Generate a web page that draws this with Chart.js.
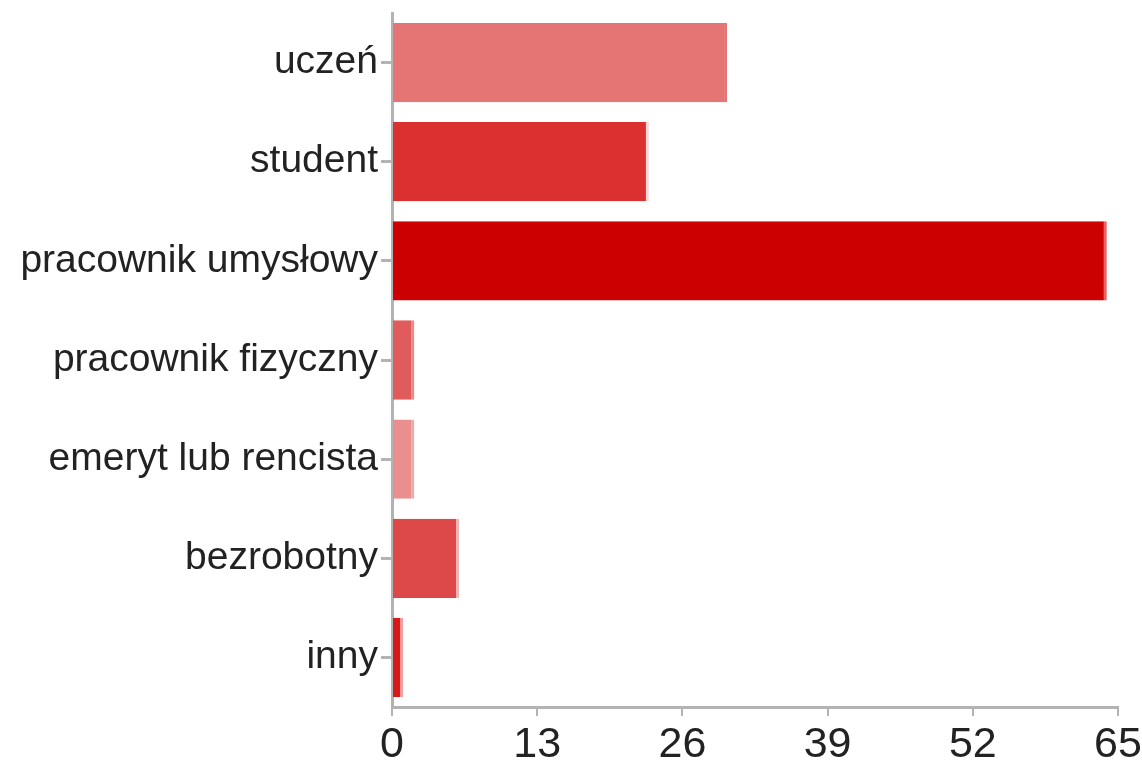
<!DOCTYPE html>
<html>
<head>
<meta charset="utf-8">
<script src="https://cdn.jsdelivr.net/npm/chart.js@4/dist/chart.umd.min.js"></script>
<style>
  html, body { margin: 0; padding: 0; background: #fff; }
  #wrap { width: 1142px; height: 761px; }
</style>
</head>
<body>
<div id="wrap"><canvas id="occupationChart" width="1142" height="761"></canvas></div>
<script>
// Chart data
const categories = ['uczeń', 'student', 'pracownik umysłowy', 'pracownik fizyczny', 'emeryt lub rencista', 'bezrobotny', 'inny'];
const counts = [30, 23, 64, 2, 2, 6, 1];
const xTicks = [0, 13, 26, 39, 52, 65];

const barColors = ['#e57575', '#da3030', '#cc0000', '#e05c5c', '#e98f8f', '#dd4848', '#d61a1a'];
const edgeColors = ['#e57575', '#f6d6d6', '#e86464', '#ec8888', '#f0a8a8', '#f0b4b4', '#f0a0a0'];

const axisGray = '#b3b3b3';

document.addEventListener('DOMContentLoaded', function() {
    const ctx = document.getElementById('occupationChart').getContext('2d');
    window.occupationChart = new Chart(ctx, {
        type: 'bar',
        data: {
            labels: categories,
            datasets: [{
                data: counts,
                backgroundColor: barColors,
                borderColor: edgeColors,
                borderWidth: { top: 0, right: 3, bottom: 0, left: 0 },
                borderSkipped: false,
                categoryPercentage: 0.8,
                barPercentage: 1.0
            }]
        },
        options: {
            indexAxis: 'y',
            responsive: false,
            animation: false,
            layout: {
                padding: { top: 13, right: 24, left: 0, bottom: 0 }
            },
            plugins: {
                legend: { display: false },
                tooltip: { enabled: false }
            },
            scales: {
                x: {
                    min: 0,
                    max: 65,
                    afterBuildTicks: function(scale) {
                        scale.ticks = xTicks.map(v => ({ value: v }));
                    },
                    afterFit: function(scale) {
                        scale.height = 54;
                        scale.paddingLeft = 0;
                        scale.paddingRight = 0;
                    },
                    border: { display: true, color: axisGray, width: 3 },
                    grid: {
                        display: true,
                        drawOnChartArea: false,
                        drawTicks: true,
                        tickLength: 9,
                        color: axisGray,
                        lineWidth: 2
                    },
                    ticks: {
                        color: '#222',
                        padding: 3,
                        maxRotation: 0,
                        font: { family: 'Liberation Sans', size: 43 }
                    }
                },
                y: {
                    afterFit: function(scale) {
                        scale.width = 392;
                        scale.paddingTop = 0;
                        scale.paddingBottom = 0;
                    },
                    border: { display: true, color: axisGray, width: 3 },
                    grid: {
                        display: true,
                        offset: false,
                        drawOnChartArea: false,
                        drawTicks: true,
                        tickLength: 11,
                        color: axisGray,
                        lineWidth: 3
                    },
                    ticks: {
                        color: '#222',
                        padding: 3,
                        font: { family: 'Liberation Sans', size: 39 }
                    }
                }
            }
        }
    });
});
</script>
</body>
</html>
